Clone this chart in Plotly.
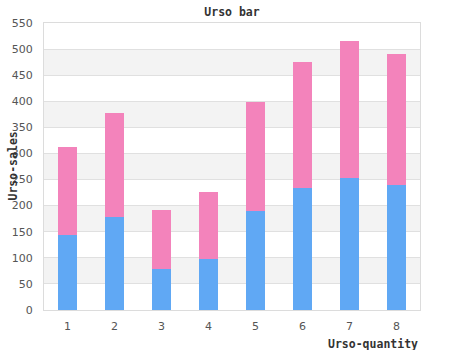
import plotly.graph_objects as go

categories = ["1", "2", "3", "4", "5", "6", "7", "8"]
series_a = [144, 178, 78, 98, 190, 234, 253, 240]
series_b = [168, 199, 114, 128, 209, 241, 262, 250]
y_ticks = list(range(0, 551, 50))

fig = go.Figure()
fig.add_trace(go.Bar(x=categories, y=series_a, marker_color="#60a8f4", marker_line_width=0, width=0.42, name="A"))
fig.add_trace(go.Bar(x=categories, y=series_b, marker_color="#f383bb", marker_line_width=0, width=0.42, name="B"))

shapes = []
for i in range(1, len(y_ticks) - 1, 2):
    shapes.append(dict(type="rect", xref="paper", yref="y", x0=0, x1=1,
                       y0=y_ticks[i], y1=y_ticks[i + 1], fillcolor="#f3f3f3",
                       line_width=0, layer="below"))

mono = "DejaVu Sans Mono"
fig.update_layout(
    width=450, height=350, barmode="stack", showlegend=False,
    margin=dict(l=40, r=30, t=23, b=40),
    plot_bgcolor="white", paper_bgcolor="white",
    shapes=shapes,
    title=dict(text="<b>Urso bar</b>", x=0.5, xref="paper", y=1, yref="container",
               yanchor="top", pad=dict(t=8), font=dict(family=mono, size=11.5, color="#333")),
    xaxis=dict(type="category", range=[-0.5, 7.5], showgrid=False, showline=True,
               linecolor="#dcdcdc", linewidth=1, mirror=True, ticks="",
               ticklabelstandoff=6, tickfont=dict(family="DejaVu Sans", size=11, color="#555")),
    yaxis=dict(range=[0, 550], tickvals=y_ticks, showgrid=True, gridcolor="#e0e0e0",
               gridwidth=1, showline=True, linecolor="#dcdcdc", linewidth=1, mirror=True,
               ticks="", ticklabelstandoff=8, zeroline=False,
               tickfont=dict(family="DejaVu Sans", size=11, color="#555")),
    annotations=[
        dict(text="<b>Urso-quantity</b>", xref="paper", yref="paper", x=1, y=0,
             xanchor="right", yanchor="middle", yshift=-34, showarrow=False,
             font=dict(family=mono, size=11.5, color="#333")),
        dict(text="<b>Urso-sales</b>", xref="paper", yref="paper", x=0, y=0.5,
             xanchor="center", yanchor="middle", xshift=-32, textangle=-90, showarrow=False,
             font=dict(family=mono, size=11.5, color="#333")),
    ],
)
fig.write_html("out.html")
